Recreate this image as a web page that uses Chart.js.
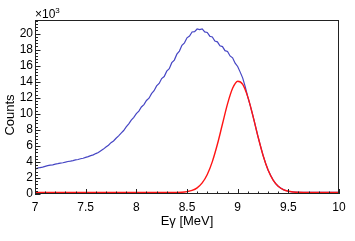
<!DOCTYPE html>
<html>
<head>
<meta charset="utf-8">
<script src="https://cdn.jsdelivr.net/npm/chart.js@4.4.1/dist/chart.umd.min.js"></script>
<style>
  html, body { margin: 0; padding: 0; background: #fff; }
</style>
</head>
<body>
<canvas id="spec" width="355" height="241"></canvas>
<script>
// measured spectrum: 0.025 MeV bins starting at 7 MeV, counts in units of 10^3
const binStart = 7.0;
const binWidth = 0.025;
const measured = [
  3.10, 3.22, 3.30, 3.36, 3.45, 3.53, 3.60, 3.64, 3.72, 3.78,
  3.86, 3.90, 3.97, 4.05, 4.10, 4.16, 4.25, 4.30, 4.40, 4.46,
  4.57, 4.66, 4.78, 4.88, 5.04, 5.18, 5.40, 5.60, 5.85, 6.08,
  6.40, 6.62, 6.95, 7.25, 7.60, 7.92, 8.36, 8.75, 9.22, 9.56,
  10.02, 10.34, 10.85, 11.15, 11.66, 11.95, 12.52, 12.88, 13.48, 13.78,
  14.40, 14.65, 15.32, 15.62, 16.38, 16.70, 17.44, 17.82, 18.55, 18.85,
  19.48, 19.70, 20.20, 20.25, 20.58, 20.50, 20.60, 20.22, 20.15, 19.68,
  19.58, 19.08, 18.98, 18.48, 18.38, 17.88, 17.78, 17.22, 16.98, 16.32,
  15.90, 15.20, 14.45, 13.35, 12.10, 11.00, 9.77, 8.50, 7.19, 6.00,
  4.84, 3.85, 3.00, 2.33, 1.74, 1.30, 0.97, 0.74, 0.55, 0.43,
  0.34, 0.29, 0.25, 0.23, 0.21, 0.21, 0.20, 0.20, 0.20, 0.20,
  0.20, 0.20, 0.20, 0.20, 0.20, 0.20, 0.20, 0.20, 0.20, 0.20,
  0.20
];

// fitted peak
const fitE = [7.0, 8.4, 8.45, 8.5, 8.55, 8.6, 8.65, 8.7, 8.75, 8.8, 8.85, 8.9, 8.95, 9.0,
  9.05, 9.1, 9.15, 9.2, 9.25, 9.3, 9.35, 9.4, 9.45, 9.5, 9.55, 9.6, 9.65, 10.0];
const fitCounts = [0.20, 0.20, 0.22, 0.30, 0.45, 0.77, 1.38, 2.43, 4.04, 6.20, 8.73, 11.24, 13.18, 14.07,
  13.68, 12.11, 9.77, 7.19, 4.84, 3.00, 1.74, 0.97, 0.55, 0.34, 0.25, 0.21, 0.20, 0.20];

const xTicks = [7, 7.5, 8, 8.5, 9, 9.5, 10];
const yTicks = [0, 2, 4, 6, 8, 10, 12, 14, 16, 18, 20];

const FONT = "'Liberation Sans', Arial, sans-serif";

const frameTicks = {
  id: 'frameTicks',
  afterDatasetsDraw(chart) {
    const {ctx, chartArea: a, scales: {x, y}} = chart;
    ctx.save();
    ctx.strokeStyle = '#222';
    ctx.lineWidth = 1;
    ctx.strokeRect(a.left + 0.5, a.top + 0.5, a.right - a.left - 1, a.bottom - a.top - 1);
    ctx.beginPath();
    for (let i = 0; i <= 30; i++) {
      const px = Math.round(x.getPixelForValue(x.min + i * 0.1)) + 0.5;
      const len = i % 5 === 0 ? 5 : 2.5;
      ctx.moveTo(px, a.bottom); ctx.lineTo(px, a.bottom - len);
    }
    for (let i = 0; i * 0.4 <= y.max; i++) {
      const py = Math.round(y.getPixelForValue(i * 0.4)) + 0.5;
      const len = i % 5 === 0 ? 5.5 : 3;
      ctx.moveTo(a.left, py); ctx.lineTo(a.left + len, py);
    }
    ctx.stroke();

    ctx.fillStyle = '#000';
    ctx.font = '12px ' + FONT;
    ctx.textAlign = 'left';
    ctx.textBaseline = 'alphabetic';
    ctx.fillText('×10', a.left, 18);
    const w = ctx.measureText('×10').width;
    ctx.font = '8px ' + FONT;
    ctx.fillText('3', a.left + w, 13);

    ctx.translate(14, 115);
    ctx.rotate(-Math.PI / 2);
    ctx.font = '13px ' + FONT;
    ctx.textAlign = 'center';
    ctx.fillText('Counts', 0, 0);
    ctx.restore();
  }
};

new Chart(document.getElementById('spec'), {
  type: 'scatter',
  data: {
    datasets: [
      {label: 'fit', data: fitE.map((e, i) => ({x: e, y: fitCounts[i]})), showLine: true,
       borderColor: '#ff1414', borderWidth: 1.4, pointRadius: 0, cubicInterpolationMode: 'monotone'},
      {label: 'data', data: measured.map((c, i) => ({x: binStart + i * binWidth, y: c})), showLine: true,
       borderColor: '#4646c4', borderWidth: 1.2, pointRadius: 0, tension: 0}
    ]
  },
  options: {
    responsive: false,
    devicePixelRatio: 1,
    animation: false,
    layout: {padding: {top: 20, right: 16, left: 0, bottom: 0}},
    plugins: {legend: {display: false}, tooltip: {enabled: false}},
    scales: {
      x: {
        type: 'linear', min: 7, max: 10,
        grid: {display: false, drawTicks: false},
        border: {display: false},
        afterBuildTicks: s => { s.ticks = xTicks.map(v => ({value: v})); },
        afterFit: s => { s.height = 47; },
        ticks: {padding: 6, maxRotation: 0, color: '#000', font: {family: FONT, size: 12},
                callback: v => String(v)},
        title: {display: true, text: 'Eγ [MeV]', color: '#000', font: {family: FONT, size: 13},
                padding: {top: 0, bottom: 12}}
      },
      y: {
        type: 'linear', min: 0, max: 21.7,
        grid: {display: false, drawTicks: false},
        border: {display: false},
        afterBuildTicks: s => { s.ticks = yTicks.map(v => ({value: v})); },
        afterFit: s => { s.width = 35; },
        ticks: {padding: 2, color: '#000', font: {family: FONT, size: 12}, callback: v => String(v)}
      }
    }
  },
  plugins: [frameTicks]
});
</script>
</body>
</html>
